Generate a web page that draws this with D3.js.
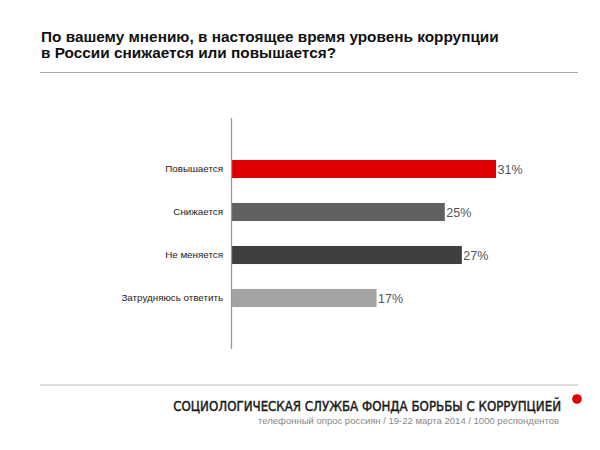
<!DOCTYPE html>
<html><head><meta charset="utf-8">
<script src="https://cdn.jsdelivr.net/npm/d3@7"></script>
<style>body{margin:0;background:#fff}</style>
</head><body>
<svg id="c" width="600" height="450"></svg>
<script>
const titleLines = ["По вашему мнению, в настоящее время уровень коррупции", "в России снижается или повышается?"];
const categories = ["Повышается", "Снижается", "Не меняется", "Затрудняюсь ответить"];
const values = [31, 25, 27, 17];
const barColors = ["#dc0000", "#616161", "#3f3f3f", "#a3a3a3"];
const footerTitle = "СОЦИОЛОГИЧЕСКАЯ СЛУЖБА ФОНДА БОРЬБЫ С КОРРУПЦИЕЙ";
const footerNote = "телефонный опрос россиян / 19-22 марта 2014 / 1000 респондентов";

const svg = d3.select("#c");
const font = "'Liberation Sans', Arial, Helvetica, sans-serif";

// fit a text's font size so that its natural width matches a target width
function fitWidth(sel, target) {
  const fs = parseFloat(sel.attr("font-size"));
  const w = sel.node().getComputedTextLength();
  if (w > 0) sel.attr("font-size", (fs * target / w).toFixed(2));
}

// title
const t = svg.append("text").attr("font-family", font).attr("font-weight", "bold")
  .attr("font-size", 16).attr("fill", "#111");
titleLines.forEach((l, i) => t.append("tspan").attr("x", 41).attr("y", 42 + i * 15.5).text(l));
{
  const w = t.select("tspan").node().getComputedTextLength();
  if (w > 0) t.attr("font-size", (16 * 458 / w).toFixed(2));
}

svg.append("line").attr("x1", 40).attr("x2", 578).attr("y1", 72.5).attr("y2", 72.5)
  .attr("stroke", "#aaa").attr("stroke-width", 1.2);

// chart
const x = d3.scaleLinear().domain([0, 31]).range([231.5, 496]);
const y = d3.scaleBand().domain(categories).range([147.5, 319.5]).paddingInner(0.58).paddingOuter(0.29);

const g = svg.append("g");
g.selectAll("rect").data(categories).join("rect")
  .attr("x", x(0)).attr("y", d => y(d))
  .attr("width", (d, i) => x(values[i]) - x(0)).attr("height", y.bandwidth())
  .attr("fill", (d, i) => barColors[i]);

g.selectAll("text.val").data(categories).join("text").attr("class", "val")
  .attr("x", (d, i) => x(values[i]) + 1.5).attr("y", d => y(d) + y.bandwidth() / 2)
  .attr("dy", "0.36em").attr("font-family", font).attr("font-size", 12.5).attr("fill", "#555")
  .text((d, i) => values[i] + "%");

const yAxis = d3.axisLeft(y).tickSize(0).tickPadding(8.5);
const ag = svg.append("g").attr("transform", `translate(${x(0)},0)`).call(yAxis);
ag.select(".domain").remove();
ag.selectAll("text").attr("font-family", font).attr("font-size", 9.8).attr("fill", "#222");
svg.append("line").attr("x1", x(0)).attr("x2", x(0)).attr("y1", 118).attr("y2", 349)
  .attr("stroke", "#999").attr("stroke-width", 1.3);

// footer
svg.append("line").attr("x1", 40).attr("x2", 578).attr("y1", 385).attr("y2", 385)
  .attr("stroke", "#bbb").attr("stroke-width", 1.2);
const ft = svg.append("text").attr("x", 561).attr("y", 410.5).attr("text-anchor", "end")
  .attr("font-family", "'Liberation Sans Narrow', 'DejaVu Sans Condensed', Arial, sans-serif")
  .attr("font-size", 14.5).attr("fill", "#1a1a1a")
  .attr("stroke", "#1a1a1a").attr("stroke-width", 0.4)
  .text(footerTitle);
fitWidth(ft, 388);
svg.append("circle").attr("cx", 577).attr("cy", 399).attr("r", 4.8).attr("fill", "#e00000");
const fn = svg.append("text").attr("x", 559).attr("y", 424).attr("text-anchor", "end")
  .attr("font-family", font).attr("font-size", 9.5).attr("fill", "#888")
  .text(footerNote);
fitWidth(fn, 301);
</script>
</body></html>
